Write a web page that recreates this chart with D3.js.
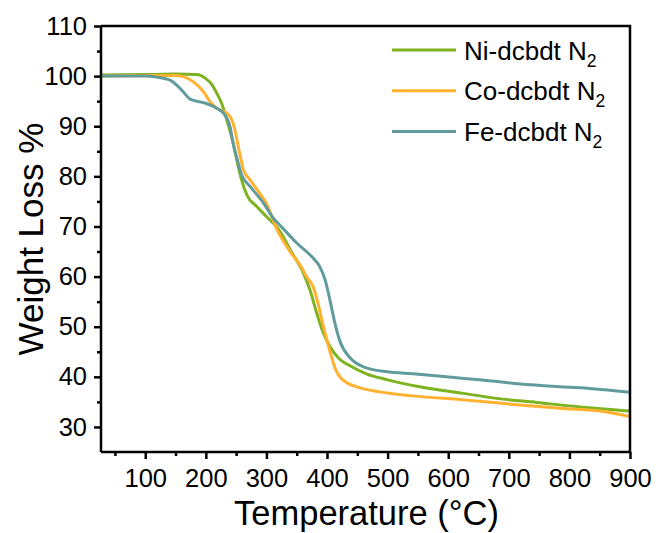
<!DOCTYPE html>
<html>
<head>
<meta charset="utf-8">
<script src="https://cdn.jsdelivr.net/npm/d3@7"></script>
<style>
  html, body { margin: 0; padding: 0; background: #fff; }
  svg { display: block; }
  text { font-family: "Liberation Sans", Arial, sans-serif; fill: #000; }
</style>
</head>
<body>
<svg id="chart" width="660" height="533"></svg>
<script>
// TGA curves under N2: [temperature °C, weight %]
const niSeries = [
  [27,100.2],[100,100.3],[150,100.4],[185,100.3],[200,99.5],[210,98.3],[218,96.6],
  [226,94.6],[236,90.7],[245,86.7],[251,83.3],[259,79.3],[268,76.2],[284,74.0],
  [300,72.0],[317,69.9],[325,68.5],[339,65.4],[361,60.7],[372,57.3],[383,52.7],
  [394,48.7],[405,46.0],[420,43.6],[438,42.2],[465,40.6],[500,39.4],[553,38.0],
  [625,36.7],[680,35.7],[746,34.9],[818,34.0],[900,33.2]
];
const coSeries = [
  [27,100.0],[100,100.1],[150,100.1],[163,99.9],[179,98.9],[196,96.9],[207,94.9],
  [218,93.6],[228,93.0],[236,92.5],[242,91.5],[248,89.3],[253,86.2],[257,84.0],
  [262,81.3],[273,79.3],[289,76.6],[300,74.6],[317,69.5],[339,65.0],[358,61.8],
  [366,60.0],[377,58.0],[385,54.7],[394,50.0],[405,45.0],[414,41.5],[424,39.6],
  [436,38.6],[449,38.0],[487,37.0],[542,36.2],[625,35.4],[707,34.5],[790,33.7],
  [856,33.1],[900,32.1]
];
const feSeries = [
  [27,100.0],[100,100.0],[119,99.8],[141,99.2],[157,97.6],[166,96.4],[174,95.4],
  [196,94.7],[218,93.6],[231,92.3],[240,89.9],[245,86.6],[252,83.3],[259,80.3],
  [273,78.0],[295,74.7],[311,71.7],[322,70.3],[350,66.7],[377,63.7],[388,62.0],
  [397,59.3],[405,55.2],[413,50.7],[421,47.2],[438,43.8],[460,42.0],[500,41.0],
  [542,40.6],[614,39.8],[652,39.4],[735,38.4],[818,37.8],[900,36.9]
];

const seriesNames = ["Ni-dcbdt N", "Co-dcbdt N", "Fe-dcbdt N"];
const seriesColors = ["#7db221", "#ffb12f", "#619b9c"];
const seriesData = [niSeries, coSeries, feSeries];

const xMajorTicks = [100, 200, 300, 400, 500, 600, 700, 800, 900];
const xMinorTicks = [50, 150, 250, 350, 450, 550, 650, 750, 850];
const yMajorTicks = [30, 40, 50, 60, 70, 80, 90, 100, 110];
const yMinorTicks = [35, 45, 55, 65, 75, 85, 95, 105];

const xLabel = "Temperature (°C)";
const yLabel = "Weight Loss %";

const margin = { left: 101, right: 30, top: 26, bottom: 81 };
const W = 660, H = 533;
const plotW = W - margin.left - margin.right;
const plotH = H - margin.top - margin.bottom;

const svg = d3.select("#chart");
const g = svg.append("g").attr("transform", `translate(${margin.left},${margin.top})`);

const x = d3.scaleLinear().domain([27, 900]).range([0, plotW]);
const y = d3.scaleLinear().domain([25, 110]).range([plotH, 0]);

const line = d3.line()
  .x(d => x(d[0]))
  .y(d => y(d[1]))
  .curve(d3.curveMonotoneX);

const clipId = "plot-clip";
g.append("clipPath").attr("id", clipId)
  .append("rect").attr("width", plotW).attr("height", plotH);

const curves = g.append("g").attr("clip-path", `url(#${clipId})`);
seriesData.forEach((data, i) => {
  curves.append("path")
    .datum(data)
    .attr("fill", "none")
    .attr("stroke", seriesColors[i])
    .attr("stroke-width", 3)
    .attr("stroke-linejoin", "round")
    .attr("stroke-linecap", "round")
    .attr("d", line);
});

// Frame: top and right edges
g.append("path")
  .attr("d", `M0,0H${plotW}V${plotH}`)
  .attr("fill", "none")
  .attr("stroke", "#000")
  .attr("stroke-width", 2.5);

// Bottom axis
const xAxis = g.append("g").attr("transform", `translate(0,${plotH})`)
  .call(d3.axisBottom(x).tickValues(xMajorTicks).tickSize(7).tickPadding(10)
    .tickFormat(d3.format("d")));
g.append("g").attr("transform", `translate(0,${plotH})`)
  .call(d3.axisBottom(x).tickValues(xMinorTicks).tickSize(4).tickFormat(""))
  .call(a => a.select(".domain").remove());

// Left axis
const yAxis = g.append("g")
  .call(d3.axisLeft(y).tickValues(yMajorTicks).tickSize(7).tickPadding(7)
    .tickFormat(d3.format("d")));
g.append("g")
  .call(d3.axisLeft(y).tickValues(yMinorTicks).tickSize(4).tickFormat(""))
  .call(a => a.select(".domain").remove());

g.selectAll(".domain")
  .attr("stroke", "#000").attr("stroke-width", 2.5);
g.selectAll(".tick line")
  .attr("stroke", "#000").attr("stroke-width", 2.5);
g.selectAll(".tick text")
  .attr("font-family", "'Liberation Sans', Arial, sans-serif")
  .attr("font-size", 25.5)
  .attr("fill", "#000");
// Axis lines without the end stubs
xAxis.select(".domain").attr("d", `M0,0H${plotW}`);
yAxis.select(".domain").attr("d", `M0,0V${plotH}`);

// Axis titles
svg.append("text")
  .attr("x", margin.left + plotW / 2 + 1)
  .attr("y", 524.5)
  .attr("text-anchor", "middle")
  .attr("font-size", 34.5)
  .text(xLabel);

svg.append("text")
  .attr("transform", `translate(43,${margin.top + plotH / 2}) rotate(-90)`)
  .attr("text-anchor", "middle")
  .attr("font-size", 35)
  .text(yLabel);

// Legend
const legend = svg.append("g");
const legendY0 = 50, legendStep = 40.8;
seriesNames.forEach((name, i) => {
  const ly = legendY0 + i * legendStep;
  legend.append("line")
    .attr("x1", 392).attr("x2", 456)
    .attr("y1", ly).attr("y2", ly)
    .attr("stroke", seriesColors[i])
    .attr("stroke-width", 3);
  const t = legend.append("text")
    .attr("x", 464)
    .attr("y", ly + 9.5)
    .attr("font-size", 26);
  t.append("tspan").text(name);
  t.append("tspan").attr("font-size", 17.5).attr("dy", 7).text("2");
});
</script>
</body>
</html>
